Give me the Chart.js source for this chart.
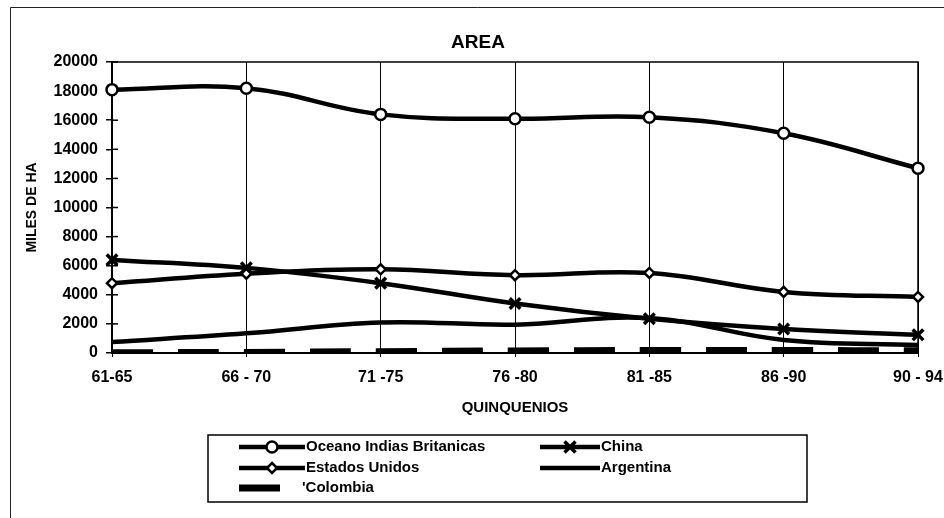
<!DOCTYPE html>
<html>
<head>
<meta charset="utf-8">
<script src="https://cdn.jsdelivr.net/npm/chart.js@4/dist/chart.umd.min.js"></script>
<style>
  html, body { margin: 0; padding: 0; background: #ffffff; }
  #wrap { position: relative; width: 944px; height: 518px; }
</style>
</head>
<body>
<div id="wrap"><canvas id="c" width="944" height="518"></canvas></div>
<script>
// ---- data ----
const categories = ["61-65", "66 - 70", "71 -75", "76 -80", "81 -85", "86 -90", "90 - 94"];
const oceanoIndias = [18100, 18200, 16400, 16100, 16200, 15100, 12700];
const china        = [6400, 5850, 4800, 3400, 2350, 1650, 1250];
const estadosUnidos= [4800, 5450, 5750, 5350, 5500, 4200, 3850];
const argentina    = [750, 1350, 2100, 1950, 2400, 900, 550];
const colombia     = [20, 40, 90, 140, 170, 170, 150];
const yTickValues  = [0, 2000, 4000, 6000, 8000, 10000, 12000, 14000, 16000, 18000, 20000];
const seriesNames  = ["Oceano Indias Britanicas", "China", "Estados Unidos", "Argentina", "'Colombia"];

const FONT = "'Liberation Sans', Arial, sans-serif";

const frameAndLegend = {
  id: 'frameAndLegend',
  beforeDatasetsDraw(chart) {
    const ctx = chart.ctx, a = chart.chartArea;
    ctx.save();
    ctx.strokeStyle = '#000';
    ctx.lineWidth = 1.5;
    ctx.beginPath();
    ctx.moveTo(a.left, a.top); ctx.lineTo(a.right, a.top); ctx.lineTo(a.right, a.bottom);
    ctx.stroke();
    const ys = chart.scales.y;
    yTickValues.forEach(v => {
      const py = ys.getPixelForValue(v);
      ctx.beginPath(); ctx.moveTo(a.left, py); ctx.lineTo(a.left + 6, py); ctx.stroke();
    });
    ctx.restore();
  },
  afterDraw(chart) {
    const ctx = chart.ctx;
    ctx.save();
    ctx.strokeStyle = '#222';
    ctx.lineWidth = 1;
    ctx.beginPath();
    ctx.moveTo(10.5, 518); ctx.lineTo(10.5, 7.5); ctx.lineTo(944, 7.5);
    ctx.stroke();
    ctx.fillStyle = '#000';
    ctx.font = "bold 19px " + FONT;
    ctx.textAlign = 'center'; ctx.textBaseline = 'middle';
    ctx.fillText("AREA", 478, 43);
    ctx.lineWidth = 1.5;
    ctx.strokeStyle = '#000';
    ctx.strokeRect(208, 435, 599, 67);
    const ds = chart.data.datasets;
    const slots = [
      {x0: 239, x1: 305, y: 447}, {x0: 540, x1: 600, y: 447},
      {x0: 239, x1: 305, y: 468}, {x0: 540, x1: 600, y: 468},
      {x0: 239, x1: 280, y: 488}
    ];
    ctx.font = "bold 15px " + FONT;
    ctx.textAlign = 'left';
    ds.forEach((d, i) => {
      const s = slots[i];
      ctx.save();
      ctx.strokeStyle = '#000';
      ctx.lineWidth = d.borderWidth;
      ctx.beginPath(); ctx.moveTo(s.x0, s.y); ctx.lineTo(s.x1, s.y); ctx.stroke();
      const cx = (s.x0 + s.x1) / 2;
      if (d.pointStyle === 'circle') {
        ctx.fillStyle = '#fff'; ctx.lineWidth = 2.5;
        ctx.beginPath(); ctx.arc(cx, s.y, 5.5, 0, Math.PI * 2); ctx.fill(); ctx.stroke();
      } else if (d.pointStyle === 'rectRot') {
        ctx.fillStyle = '#fff'; ctx.lineWidth = 2.5;
        ctx.beginPath(); ctx.moveTo(cx, s.y - 5); ctx.lineTo(cx + 5, s.y); ctx.lineTo(cx, s.y + 5); ctx.lineTo(cx - 5, s.y); ctx.closePath();
        ctx.fill(); ctx.stroke();
      } else if (d.pointStyle === 'crossRot') {
        ctx.lineWidth = 3.5;
        ctx.beginPath();
        ctx.moveTo(cx - 5.5, s.y - 5.5); ctx.lineTo(cx + 5.5, s.y + 5.5);
        ctx.moveTo(cx + 5.5, s.y - 5.5); ctx.lineTo(cx - 5.5, s.y + 5.5);
        ctx.stroke();
      }
      ctx.restore();
      ctx.fillStyle = '#000';
      ctx.textBaseline = 'middle';
      ctx.fillText(d.label, i === 4 ? 302 : s.x1 + 1, s.y);
    });
    ctx.restore();
  }
};

const common = { borderColor: '#000', tension: 0.4, fill: false };

new Chart(document.getElementById('c'), {
  type: 'line',
  data: {
    labels: categories,
    datasets: [
      Object.assign({}, common, { label: seriesNames[0], data: oceanoIndias, borderWidth: 4.5,
        pointStyle: 'circle', pointRadius: 5.5, pointBorderWidth: 2.5, pointBackgroundColor: '#fff', pointBorderColor: '#000' }),
      Object.assign({}, common, { label: seriesNames[1], data: china, borderWidth: 4.5,
        pointStyle: 'crossRot', pointRadius: 7.5, pointBorderWidth: 3.5, pointBackgroundColor: '#fff', pointBorderColor: '#000' }),
      Object.assign({}, common, { label: seriesNames[2], data: estadosUnidos, borderWidth: 4.5,
        pointStyle: 'rectRot', pointRadius: 5, pointBorderWidth: 2.5, pointBackgroundColor: '#fff', pointBorderColor: '#000' }),
      Object.assign({}, common, { label: seriesNames[3], data: argentina, borderWidth: 4.5,
        pointStyle: false, pointRadius: 0 }),
      Object.assign({}, common, { label: seriesNames[4], data: colombia, borderWidth: 7,
        borderDash: [41, 25], borderCapStyle: 'butt', pointStyle: false, pointRadius: 0 })
    ]
  },
  options: {
    responsive: false,
    animation: false,
    events: [],
    layout: { padding: { left: 0, top: 62, right: 26, bottom: 101 } },
    plugins: { legend: { display: false }, title: { display: false }, tooltip: { enabled: false } },
    scales: {
      x: {
        offset: false,
        grid: { display: true, color: '#000', lineWidth: 1, tickLength: 4, drawOnChartArea: true },
        border: { display: true, color: '#000', width: 2 },
        ticks: { color: '#000', font: { family: FONT, size: 16, weight: 'bold' }, padding: 11, maxRotation: 0, autoSkip: false },
        title: { display: true, text: 'QUINQUENIOS', color: '#000', font: { family: FONT, size: 15, weight: 'bold' }, padding: { top: 0, bottom: 0 } },
        afterFit(s) { s.height = 64; s.paddingLeft = 0; s.paddingRight = 0; }
      },
      y: {
        min: 0, max: 20000,
        afterBuildTicks(s) { s.ticks = yTickValues.map(v => ({ value: v })); },
        grid: { display: true, drawOnChartArea: false, color: '#000', lineWidth: 1.5, tickLength: 6 },
        border: { display: true, color: '#000', width: 2 },
        ticks: { color: '#000', font: { family: FONT, size: 16, weight: 'bold' }, padding: 8, callback: v => String(v) },
        title: { display: true, text: 'MILES DE HA', color: '#000', font: { family: FONT, size: 14, weight: 'bold' }, padding: { top: 24, bottom: 0 } },
        afterFit(s) { s.width = 112; }
      }
    }
  },
  plugins: [frameAndLegend]
});
</script>
</body>
</html>
